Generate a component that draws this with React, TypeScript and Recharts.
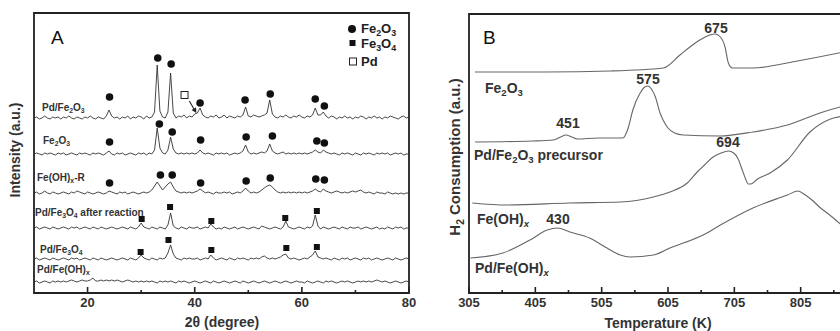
import React from 'react';
import { ComposedChart, Line, XAxis, YAxis, Scatter, ReferenceArea, ReferenceLine } from 'recharts';

const FONT = '"Liberation Sans", Arial, Helvetica, sans-serif';

// ---------- Panel A : XRD ----------
const twoTheta = [
  10, 10.5, 11, 11.5, 12, 12.5, 13, 13.5, 14, 14.5,
  15, 15.5, 16, 16.5, 17, 17.5, 18, 18.5, 19, 19.5,
  20, 20.5, 21, 21.5, 22, 22.5, 23, 23.5, 24, 24.5,
  25, 25.5, 26, 26.5, 27, 27.5, 28, 28.5, 29, 29.5,
  30, 30.5, 31, 31.5, 32, 32.5, 33, 33.5, 34, 34.5,
  35, 35.5, 36, 36.5, 37, 37.5, 38, 38.5, 39, 39.5,
  40, 40.5, 41, 41.5, 42, 42.5, 43, 43.5, 44, 44.5,
  45, 45.5, 46, 46.5, 47, 47.5, 48, 48.5, 49, 49.5,
  50, 50.5, 51, 51.5, 52, 52.5, 53, 53.5, 54, 54.5,
  55, 55.5, 56, 56.5, 57, 57.5, 58, 58.5, 59, 59.5,
  60, 60.5, 61, 61.5, 62, 62.5, 63, 63.5, 64, 64.5,
  65, 65.5, 66, 66.5, 67, 67.5, 68, 68.5, 69, 69.5,
  70, 70.5, 71, 71.5, 72, 72.5, 73, 73.5, 74, 74.5,
  75, 75.5, 76, 76.5, 77, 77.5, 78, 78.5, 79, 79.5,
  80,
];

const pdFe2O3 = [
  175, 176, 174, 175, 177, 175, 174, 176, 175, 176,
  174, 176, 175, 177, 175, 174, 176, 175, 174, 176,
  175, 177, 175, 174, 176, 175, 174, 177, 183, 177,
  175, 176, 174, 176, 175, 177, 174, 176, 175, 177,
  176, 174, 177, 175, 176, 181, 228, 182, 176, 175,
  181, 220, 180, 175, 177, 176, 178, 175, 177, 176,
  179, 180, 185, 178, 176, 175, 177, 176, 178, 175,
  176, 178, 175, 177, 176, 175, 177, 176, 178, 186,
  177, 176, 178, 177, 176, 177, 178, 180, 193, 179,
  176, 175, 177, 176, 178, 176, 175, 177, 176, 178,
  176, 175, 177, 176, 178, 185, 178, 178, 181, 177,
  175, 177, 176, 174, 176, 175, 177, 175, 176, 174,
  176, 175, 177, 176, 174, 176, 175, 177, 175, 176,
  174, 176, 175, 177, 176, 175, 174, 176, 177, 175,
  176,
];

const fe2O3 = [
  139, 140, 139, 138, 140, 139, 140, 139, 138, 140,
  139, 140, 138, 139, 140, 139, 138, 140, 139, 140,
  139, 138, 140, 139, 140, 139, 138, 140, 142, 139,
  138, 140, 139, 140, 138, 139, 140, 139, 138, 140,
  139, 140, 138, 140, 139, 143, 165, 145, 140, 139,
  143, 156, 144, 140, 139, 140, 139, 140, 139, 140,
  139, 140, 143, 140, 139, 140, 139, 138, 140, 139,
  140, 139, 140, 138, 139, 140, 139, 140, 142, 148,
  141, 139, 140, 139, 140, 141, 140, 142, 149, 142,
  140, 139, 140, 141, 139, 140, 139, 140, 139, 140,
  139, 140, 139, 140, 141, 143, 141, 140, 143, 141,
  140, 139, 140, 139, 138, 140, 139, 140, 139, 138,
  140, 139, 138, 140, 139, 140, 139, 138, 140, 139,
  140, 139, 140, 138, 139, 140, 139, 140, 138, 139,
  139,
];

const feOHxR = [
  100, 101, 99, 100, 102, 100, 99, 101, 100, 99,
  100, 101, 100, 99, 101, 100, 102, 101, 100, 99,
  101, 100, 99, 100, 101, 100, 99, 100, 102, 101,
  100, 99, 101, 100, 101, 99, 100, 101, 100, 99,
  100, 101, 100, 101, 103, 107, 111, 107, 103, 106,
  109, 111, 106, 102, 101, 100, 101, 100, 101, 100,
  101, 102, 104, 102, 100, 101, 100, 99, 101, 100,
  100, 101, 100, 101, 99, 100, 101, 100, 102, 105,
  102, 100, 101, 100, 101, 103, 105, 107, 108, 106,
  103, 101, 100, 101, 100, 101, 100, 101, 100, 101,
  100, 101, 100, 101, 102, 104, 102, 101, 104, 102,
  101, 100, 101, 102, 101, 100, 101, 100, 101, 102,
  101, 102, 103, 101, 100, 101, 100, 99, 101, 100,
  100, 99, 101, 100, 99, 100, 99, 100, 99, 100,
  100,
];

const pdFe3O4After = [
  65, 66, 64, 65, 66, 65, 64, 66, 65, 64,
  65, 66, 65, 64, 66, 65, 66, 64, 65, 66,
  65, 64, 66, 65, 64, 66, 65, 64, 65, 66,
  65, 64, 65, 66, 65, 64, 66, 65, 64, 66,
  70, 66, 65, 64, 66, 65, 64, 66, 65, 64,
  68, 80, 67, 65, 64, 66, 65, 64, 66, 65,
  65, 66, 64, 65, 66, 65, 69, 66, 64, 65,
  64, 66, 65, 64, 65, 66, 64, 65, 66, 65,
  64, 65, 66, 65, 64, 67, 66, 65, 64, 65,
  66, 65, 64, 66, 72, 66, 65, 64, 65, 66,
  65, 64, 66, 65, 67, 78, 67, 64, 66, 65,
  64, 65, 66, 65, 64, 66, 65, 64, 66, 65,
  65, 66, 64, 65, 66, 65, 64, 65, 66, 64,
  65, 64, 66, 65, 64, 66, 65, 66, 64, 65,
  65,
];

const pdFe3O4 = [
  34, 35, 33, 34, 35, 34, 33, 35, 34, 33,
  34, 35, 34, 33, 35, 34, 35, 33, 34, 35,
  34, 33, 35, 34, 33, 35, 34, 33, 34, 35,
  34, 33, 34, 35, 34, 33, 35, 34, 33, 35,
  38, 35, 34, 33, 35, 34, 33, 35, 34, 35,
  40, 48, 39, 35, 34, 33, 35, 34, 35, 34,
  34, 35, 33, 34, 35, 34, 38, 35, 33, 34,
  35, 34, 33, 35, 34, 33, 35, 34, 35, 34,
  33, 35, 34, 35, 34, 36, 37, 35, 34, 35,
  34, 35, 36, 38, 39, 35, 34, 35, 34, 33,
  34, 35, 34, 36, 38, 42, 36, 35, 34, 35,
  34, 33, 35, 34, 33, 35, 34, 35, 33, 34,
  35, 34, 33, 35, 34, 35, 33, 34, 35, 34,
  33, 34, 35, 34, 33, 35, 34, 33, 34, 35,
  34,
];

const pdFeOHx = [
  11, 12, 10, 11, 12, 11, 10, 12, 11, 12,
  11, 12, 11, 12, 13, 12, 11, 12, 13, 12,
  12, 13, 15, 12, 12, 13, 12, 13, 12, 13,
  12, 13, 12, 11, 12, 13, 12, 11, 12, 11,
  12, 11, 12, 11, 12, 11, 10, 12, 11, 12,
  11, 12, 11, 10, 12, 11, 12, 11, 10, 11,
  12, 11, 10, 11, 12, 11, 10, 12, 11, 10,
  11, 12, 11, 10, 11, 12, 11, 10, 12, 11,
  10, 11, 12, 11, 10, 11, 12, 11, 10, 11,
  12, 11, 10, 11, 12, 11, 10, 11, 12, 11,
  11, 10, 12, 11, 10, 11, 12, 11, 10, 12,
  11, 12, 11, 10, 11, 12, 11, 12, 11, 10,
  11, 12, 11, 12, 11, 12, 11, 12, 13, 12,
  11, 12, 11, 10, 11, 12, 11, 10, 11, 12,
  11,
];

const circlesPdFe2O3 = [
  { x: 24.1, y: 196 }, { x: 33.1, y: 235 }, { x: 35.6, y: 229 }, { x: 41.0, y: 190 },
  { x: 49.4, y: 193 }, { x: 54.1, y: 199 }, { x: 62.5, y: 194 }, { x: 64.2, y: 187 },
];
const circlesFe2O3 = [
  { x: 24.1, y: 151 }, { x: 33.4, y: 169 }, { x: 35.8, y: 161 }, { x: 41.1, y: 153 },
  { x: 49.6, y: 156 }, { x: 54.5, y: 157 }, { x: 62.8, y: 152 }, { x: 64.2, y: 150 },
];
const circlesFeOHxR = [
  { x: 24.1, y: 110 }, { x: 33.6, y: 118 }, { x: 35.8, y: 118 }, { x: 41.1, y: 110 },
  { x: 49.6, y: 112 }, { x: 54.1, y: 115 }, { x: 62.6, y: 114 }, { x: 64.2, y: 113 },
];
const squaresAfter = [
  { x: 30.1, y: 74 }, { x: 35.4, y: 86 }, { x: 43.1, y: 72 }, { x: 56.9, y: 75 }, { x: 62.8, y: 82 },
];
const squaresPdFe3O4 = [
  { x: 29.9, y: 41 }, { x: 35.1, y: 53 }, { x: 43.1, y: 43 }, { x: 57.1, y: 45 }, { x: 62.8, y: 46 },
];
const pdMarker = [{ x: 38.1, y: 198 }];
const pdArrow = [{ x: 39.0, y: 192 }, { x: 40.3, y: 180 }];

const xrdTicks = [20, 30, 40, 50, 60, 70, 80];
const xrdMajor = [20, 40, 60, 80];

// ---------- Panel B : H2-TPR ----------
const fe2O3TPR = [
  { t: 314, v: 221 }, { t: 420, v: 221 }, { t: 518, v: 222 }, { t: 598, v: 225 },
  { t: 623, v: 238 }, { t: 640, v: 247 }, { t: 653, v: 253 }, { t: 668, v: 258 },
  { t: 676, v: 259 }, { t: 684, v: 256 }, { t: 691, v: 246 }, { t: 696, v: 230 },
  { t: 702, v: 225 }, { t: 733, v: 225 }, { t: 800, v: 232 }, { t: 870, v: 241 },
];
const precursorTPR = [
  { t: 314, v: 151 }, { t: 400, v: 152 }, { t: 432, v: 153 }, { t: 443, v: 156 },
  { t: 451, v: 158 }, { t: 460, v: 156 }, { t: 468, v: 154 }, { t: 500, v: 155 },
  { t: 537, v: 155 }, { t: 545, v: 165 }, { t: 552, v: 183 }, { t: 563, v: 200 },
  { t: 570, v: 206 }, { t: 575, v: 207 }, { t: 580, v: 204 }, { t: 586, v: 196 },
  { t: 593, v: 180 }, { t: 600, v: 170 }, { t: 605, v: 165 }, { t: 615, v: 160 },
  { t: 628, v: 158 }, { t: 683, v: 157 }, { t: 733, v: 161 }, { t: 785, v: 168 },
  { t: 834, v: 180 }, { t: 870, v: 187 },
];
const feOHxTPR = [
  { t: 310, v: 90 }, { t: 362, v: 88 }, { t: 457, v: 90 }, { t: 533, v: 91 },
  { t: 583, v: 96 }, { t: 608, v: 101 }, { t: 634, v: 110 }, { t: 649, v: 121 },
  { t: 660, v: 128 }, { t: 673, v: 136 }, { t: 685, v: 140 }, { t: 696, v: 142 },
  { t: 704, v: 140 }, { t: 710, v: 135 }, { t: 717, v: 123 }, { t: 722, v: 114 },
  { t: 726, v: 109 }, { t: 730, v: 109 }, { t: 740, v: 114 }, { t: 759, v: 120 },
  { t: 785, v: 133 }, { t: 819, v: 161 }, { t: 850, v: 174 }, { t: 870, v: 177 },
];
const pdFeOHxTPR = [
  { t: 307, v: 35 }, { t: 356, v: 40 }, { t: 397, v: 53 }, { t: 423, v: 63 },
  { t: 438, v: 65 }, { t: 457, v: 61 }, { t: 487, v: 55 }, { t: 513, v: 45 },
  { t: 533, v: 38 }, { t: 548, v: 36 }, { t: 583, v: 38 }, { t: 608, v: 45 },
  { t: 658, v: 58 }, { t: 684, v: 68 }, { t: 733, v: 85 }, { t: 785, v: 98 },
  { t: 801, v: 102 }, { t: 812, v: 98 }, { t: 822, v: 93 }, { t: 835, v: 85 },
  { t: 845, v: 80 }, { t: 870, v: 66 },
];

const tprTicks = [305, 355, 405, 455, 505, 555, 605, 655, 705, 755, 805, 855];
const tprMajor = [305, 405, 505, 605, 705, 805];

// ---------- helpers ----------
const AxisTick = (props: any) => {
  const { x, y, payload, majors } = props;
  const v = payload.value;
  const major = majors.includes(v);
  return (
    <g>
      <line x1={x} x2={x} y1={y} y2={y - (major ? 6 : 3)} stroke="#222" strokeWidth={1.6} />
      {major && (
        <text x={x} y={y + 14} textAnchor="middle" fontFamily={FONT} fontSize={13} fontWeight="bold" fill="#333">
          {v}
        </text>
      )}
    </g>
  );
};

const circleShape = (p: any) => <circle cx={p.cx} cy={p.cy} r={3.8} fill="#111" />;
const squareShape = (p: any) => <rect x={p.cx - 3} y={p.cy - 3} width={6} height={6} fill="#111" />;
const openSquareShape = (p: any) => (
  <rect x={p.cx - 3.5} y={p.cy - 3.5} width={7} height={7} fill="#fff" stroke="#222" strokeWidth={1} />
);
const arrowShape = (p: any) => {
  const { x1, y1, x2, y2 } = p;
  const ang = Math.atan2(y2 - y1, x2 - x1);
  const L = 5;
  const W = 2.6;
  const bx = x2 - L * Math.cos(ang);
  const by = y2 - L * Math.sin(ang);
  const pts = `${x2},${y2} ${bx + W * Math.sin(ang)},${by - W * Math.cos(ang)} ${bx - W * Math.sin(ang)},${by + W * Math.cos(ang)}`;
  return (
    <g>
      <line x1={x1} y1={y1} x2={bx} y2={by} stroke="#222" strokeWidth={1.1} />
      <polygon points={pts} fill="#222" />
    </g>
  );
};

const Sub = ({ children, italic }: any) => (
  <span style={{ fontSize: '0.68em', position: 'relative', top: '0.35em', fontStyle: italic ? 'italic' : 'normal' }}>
    {children}
  </span>
);

const Txt = ({ x, y, size = 10, weight = 'bold', color = '#333', anchor = 'start', rotate = false, children }: any) => (
  <div
    style={{
      position: 'absolute',
      left: x,
      top: y,
      transform: rotate
        ? 'translate(-50%,-50%) rotate(-90deg)'
        : anchor === 'middle'
        ? 'translate(-50%,-50%)'
        : 'translateY(-50%)',
      fontFamily: FONT,
      fontSize: size,
      fontWeight: weight,
      color,
      whiteSpace: 'nowrap',
      lineHeight: 1,
    }}
  >
    {children}
  </div>
);

export default function App() {
  const rowsA = twoTheta.map((x, i) => ({
    x,
    a: pdFe2O3[i],
    b: fe2O3[i],
    c: feOHxR[i],
    d: pdFe3O4After[i],
    e: pdFe3O4[i],
    f: pdFeOHx[i],
  }));
  const lineA = { stroke: '#333', strokeWidth: 0.9, dot: false, isAnimationActive: false, type: 'linear' as const };
  const lineB = { dataKey: 'v', stroke: '#666', strokeWidth: 1.1, dot: false, isAnimationActive: false, type: 'monotone' as const };

  return (
    <div style={{ position: 'fixed', left: 0, top: 0, width: 840, height: 331, overflow: 'hidden', background: '#fff' }}>
      {/* Panel A */}
      <div style={{ position: 'absolute', left: 0, top: 0 }}>
        <ComposedChart width={420} height={331} data={rowsA} margin={{ top: 13, right: 11, bottom: 0, left: 34 }}>
          <XAxis
            dataKey="x"
            type="number"
            domain={[10, 80]}
            ticks={xrdTicks}
            interval={0}
            tick={(p: any) => <AxisTick {...p} majors={xrdMajor} />}
            tickSize={0}
            tickMargin={0}
            axisLine={false}
            height={38}
            allowDataOverflow
          />
          <YAxis hide type="number" domain={[0, 280]} allowDataOverflow />
          <Line dataKey="a" {...lineA} />
          <Line dataKey="b" {...lineA} />
          <Line dataKey="c" {...lineA} />
          <Line dataKey="d" {...lineA} />
          <Line dataKey="e" {...lineA} />
          <Line dataKey="f" {...lineA} />
          <Scatter data={circlesPdFe2O3} dataKey="y" shape={circleShape} isAnimationActive={false} />
          <Scatter data={circlesFe2O3} dataKey="y" shape={circleShape} isAnimationActive={false} />
          <Scatter data={circlesFeOHxR} dataKey="y" shape={circleShape} isAnimationActive={false} />
          <Scatter data={squaresAfter} dataKey="y" shape={squareShape} isAnimationActive={false} />
          <Scatter data={squaresPdFe3O4} dataKey="y" shape={squareShape} isAnimationActive={false} />
          <Scatter data={pdMarker} dataKey="y" shape={openSquareShape} isAnimationActive={false} />
          <ReferenceLine segment={pdArrow} shape={arrowShape} ifOverflow="visible" />
          <ReferenceArea x1={10} x2={80} y1={0} y2={280} fill="none" stroke="#222" strokeWidth={1.8} ifOverflow="visible" />
        </ComposedChart>
      </div>

      {/* Panel B */}
      <div style={{ position: 'absolute', left: 420, top: 0 }}>
        <ComposedChart width={460} height={331} margin={{ top: 14, right: 13, bottom: 0, left: 49 }}>
          <XAxis
            dataKey="t"
            type="number"
            domain={[305, 905]}
            ticks={tprTicks}
            interval={0}
            tick={(p: any) => <AxisTick {...p} majors={tprMajor} />}
            tickSize={0}
            tickMargin={0}
            axisLine={false}
            height={38}
            allowDataOverflow
          />
          <YAxis hide type="number" domain={[0, 279]} allowDataOverflow />
          <Line data={fe2O3TPR} {...lineB} />
          <Line data={precursorTPR} {...lineB} />
          <Line data={feOHxTPR} {...lineB} />
          <Line data={pdFeOHxTPR} {...lineB} />
          <ReferenceArea x1={305} x2={905} y1={0} y2={279} fill="none" stroke="#222" strokeWidth={1.8} ifOverflow="visible" />
        </ComposedChart>
      </div>

      {/* Panel A texts */}
      <Txt x={51} y={37} size={19} weight="normal" color="#111">A</Txt>
      <Txt x={42} y={108}>Pd/Fe<Sub>2</Sub>O<Sub>3</Sub></Txt>
      <Txt x={43} y={141}>Fe<Sub>2</Sub>O<Sub>3</Sub></Txt>
      <Txt x={37} y={178}>Fe(OH)<Sub>x</Sub>-R</Txt>
      <Txt x={35} y={213}>Pd/Fe<Sub>3</Sub>O<Sub>4</Sub> after reaction</Txt>
      <Txt x={40} y={250}>Pd/Fe<Sub>3</Sub>O<Sub>4</Sub></Txt>
      <Txt x={37} y={270}>Pd/Fe(OH)<Sub>x</Sub></Txt>

      <svg style={{ position: 'absolute', left: 0, top: 0 }} width={420} height={80}>
        <circle cx={352} cy={29} r={4} fill="#111" />
        <rect x={349.5} y={40} width={6} height={6} fill="#111" />
        <rect x={349.5} y={58} width={7} height={7} fill="#fff" stroke="#222" strokeWidth={1} />
      </svg>
      <Txt x={361} y={28} size={13} color="#222">Fe<Sub>2</Sub>O<Sub>3</Sub></Txt>
      <Txt x={361} y={43} size={13} color="#222">Fe<Sub>3</Sub>O<Sub>4</Sub></Txt>
      <Txt x={361} y={61} size={13} color="#222">Pd</Txt>

      <Txt x={15} y={150} size={14} rotate>Intensity (a.u.)</Txt>
      <Txt x={222} y={322} size={14} anchor="middle">2θ (degree)</Txt>

      {/* Panel B texts */}
      <Txt x={483} y={37} size={19} weight="normal" color="#111">B</Txt>
      <Txt x={716} y={28} size={14} anchor="middle">675</Txt>
      <Txt x={648} y={79} size={14} anchor="middle">575</Txt>
      <Txt x={568} y={123} size={14} anchor="middle">451</Txt>
      <Txt x={728} y={142} size={14} anchor="middle">694</Txt>
      <Txt x={558} y={219} size={14} anchor="middle">430</Txt>
      <Txt x={485} y={88} size={14}>Fe<Sub>2</Sub>O<Sub>3</Sub></Txt>
      <Txt x={474} y={155} size={14}>Pd/Fe<Sub>2</Sub>O<Sub>3</Sub> precursor</Txt>
      <Txt x={477} y={219} size={14}>Fe(OH)<Sub italic>x</Sub></Txt>
      <Txt x={475} y={268} size={14}>Pd/Fe(OH)<Sub italic>x</Sub></Txt>

      <Txt x={455} y={157} size={15} rotate>H<Sub>2</Sub> Consumption (a.u.)</Txt>
      <Txt x={658} y={323} size={14} anchor="middle">Temperature (K)</Txt>
    </div>
  );
}
